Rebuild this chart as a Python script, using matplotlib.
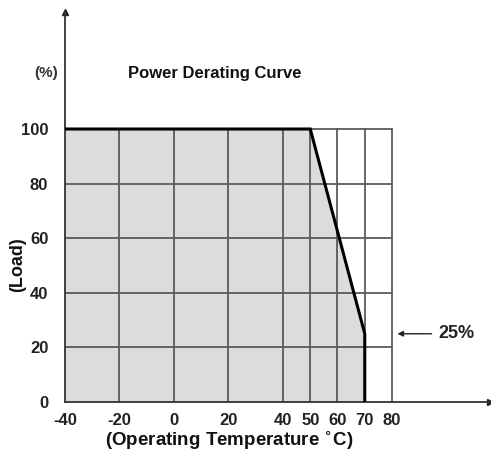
import matplotlib
matplotlib.use("Agg")
import matplotlib.pyplot as plt

# Data
temperature = [-40, 50, 70, 70]
load = [100, 100, 25, 0]
x_ticks = [-40, -20, 0, 20, 40, 50, 60, 70, 80]
y_ticks = [0, 20, 40, 60, 80, 100]
x_tick_labels = ["-40", "-20", "0", "20", "40", "50", "60", "70", "80"]
y_tick_labels = ["0", "20", "40", "60", "80", "100"]
note_value = 25

plt.rcParams['font.family'] = ['Liberation Sans', 'DejaVu Sans']
plt.rcParams['font.weight'] = 'bold'

W, H = 491, 458
fig = plt.figure(figsize=(W / 100, H / 100), dpi=100)
x0, x1 = 65, 490
y0, y1 = 402, 12
ax = fig.add_axes([x0 / W, 1 - y0 / H, (x1 - x0) / W, (y0 - y1) / H])
xpp = 120 / (392 - 65)
ypp = 100 / (402 - 129)
ax.set_xlim(-40, -40 + (x1 - x0) * xpp)
ax.set_ylim(0, (y0 - y1) * ypp)

grid_c = '#5a5a5a'
# fill under curve
ax.fill_between(temperature, load, 0, color='#dcdcdc', zorder=1, lw=0)
# grid
for xv in x_ticks[1:]:
    ax.plot([xv, xv], [y_ticks[0], y_ticks[-1]], color=grid_c, lw=1.3, zorder=2)
for yv in y_ticks[1:]:
    ax.plot([x_ticks[0], x_ticks[-1]], [yv, yv], color=grid_c, lw=1.3, zorder=2)
# curve
ax.plot(temperature, load, color='black', lw=2.2, zorder=3, solid_joinstyle='miter')

for s in ['top', 'right']:
    ax.spines[s].set_visible(False)
for s in ['left', 'bottom']:
    ax.spines[s].set_color('#333333')
    ax.spines[s].set_linewidth(1.3)
ax.plot(1, 0, '>', color='#222222', ms=4, transform=ax.transAxes, clip_on=False)
ax.plot(0, 1, '^', color='#222222', ms=4, transform=ax.transAxes, clip_on=False)

ax.set_xticks(x_ticks)
ax.set_xticklabels(x_tick_labels, fontsize=12, fontweight='bold', color='#222222')
ax.set_yticks(y_ticks)
ax.set_yticklabels(y_tick_labels, fontsize=12, fontweight='bold', color='#222222')
ax.tick_params(length=0, pad=8)
ax.tick_params(axis='y', pad=12)

ax.text(-47, 120.5, "(%)", ha='center', va='center', fontsize=11, color='#333333')
ax.text(15, 120.5, "Power Derating Curve", ha='center', va='center', fontsize=12,
        fontweight='bold', color='#111111')
ax.annotate("", xy=(82, note_value), xytext=(94.5, note_value),
            arrowprops=dict(arrowstyle='-|>', color='#222222', lw=1, mutation_scale=8,
                            shrinkA=0, shrinkB=0))
ax.text(97, note_value, "25%", ha='left', va='center', fontsize=13, fontweight='bold', color='#222222')

fig.text(18 / W, 1 - 265 / H, "(Load)", rotation=90, ha='center', va='center',
         fontsize=13, fontweight='bold', color='#111111')
fig.text(229 / W, 1 - 440 / H, "(Operating Temperature $^{\\circ}$C)", ha='center', va='center',
         fontsize=13.5, fontweight='bold', color='#111111')

fig.savefig("out.png", dpi=100, facecolor='white')
